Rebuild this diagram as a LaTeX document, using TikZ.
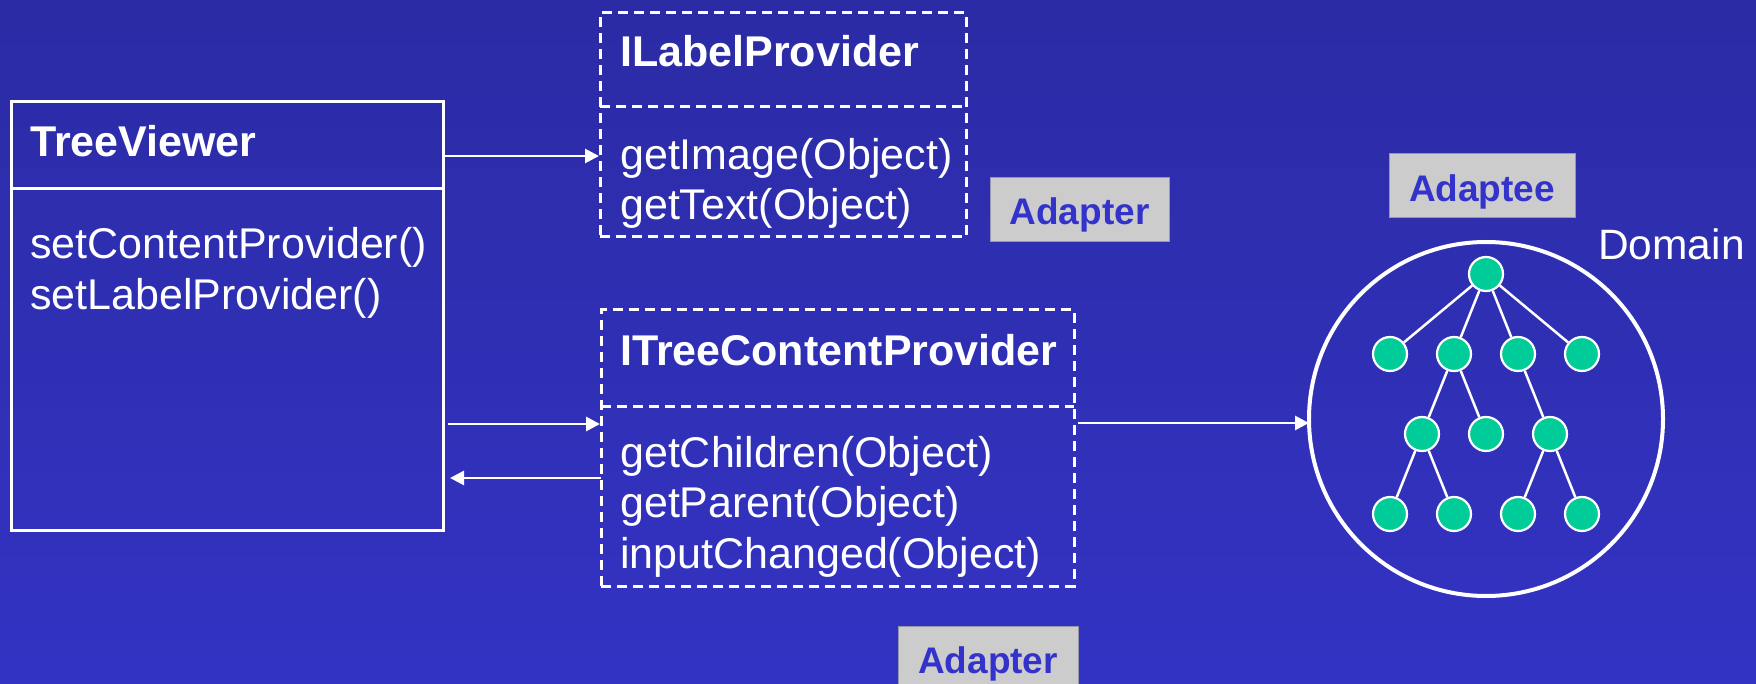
\documentclass[tikz,border=0pt]{standalone}
\usepackage{fontspec}
\setmainfont{Liberation Sans}
\usetikzlibrary{arrows.meta}
\definecolor{bgtop}{RGB}{43,43,165}
\definecolor{bgbot}{RGB}{51,51,196}
\definecolor{leaf}{RGB}{0,204,153}
\definecolor{tagfill}{RGB}{204,204,204}
\definecolor{tagtext}{RGB}{51,51,204}
\definecolor{tagline}{RGB}{150,150,175}
\begin{document}
\begin{tikzpicture}[x=1pt,y=-1pt,
  classbox/.style={draw=white, line width=3pt, inner sep=0pt, outer sep=0pt, anchor=north west},
  dashline/.style={draw=white, line width=3pt, dash pattern=on 10pt off 6pt},
  solidline/.style={draw=white, line width=3pt},
  title/.style={text=white, anchor=base west, inner sep=0pt, font=\fontsize{43}{50}\selectfont\bfseries},
  method/.style={text=white, anchor=base west, inner sep=0pt, font=\fontsize{43}{50}\selectfont},
  arr/.style={draw=white, line width=2.8pt, -{Triangle[length=14pt,width=14pt]}},
  tag/.style={fill=tagfill, draw=tagline, line width=1pt, anchor=north west, inner sep=0pt},
  tagtxt/.style={text=tagtext, anchor=base, inner sep=0pt, font=\fontsize{37}{44}\selectfont\bfseries},
  tnode/.style={circle, fill=leaf, draw=white, line width=2.2pt, minimum size=34pt, inner sep=0pt},
  tedge/.style={draw=white, line width=2.5pt}
]
\useasboundingbox (0,0) rectangle (1756,684);
\shade[top color=bgtop, bottom color=bgbot] (0,0) rectangle (1756,684);

% TreeViewer class
\node[classbox, minimum width=432pt, minimum height=428pt] (tv) at (11,102) {};
\draw[solidline] (tv.west |- 0,189) -- (tv.east |- 0,189);
\node[title] (tvname) at (30,157) {TreeViewer};
\node[method] (tvm1) at (30,259) {setContentProvider()};
\node[method] (tvm2) at (30,310) {setLabelProvider()};

% ILabelProvider interface
\node[classbox, dashline, minimum width=366pt, minimum height=224pt] (ilp) at (600,13) {};
\draw[dashline] (ilp.west |- 0,107) -- (ilp.east |- 0,107);
\node[title] (ilpname) at (620,67) {ILabelProvider};
\node[method] (ilpm1) at (620,170) {getImage(Object)};
\node[method] (ilpm2) at (620,220) {getText(Object)};

% ITreeContentProvider interface
\node[classbox, dashline, minimum width=473pt, minimum height=276pt] (itcp) at (601,310) {};
\draw[dashline] (itcp.west |- 0,406) -- (itcp.east |- 0,406);
\node[title] (itcpname) at (620,366) {ITreeContentProvider};
\node[method] (itcpm1) at (620,467) {getChildren(Object)};
\node[method] (itcpm2) at (620,517) {getParent(Object)};
\node[method] (itcpm3) at (620,568) {inputChanged(Object)};

% Domain tree
\node[circle, draw=white, line width=4pt, minimum size=354pt, inner sep=0pt, outer sep=0pt] (dom) at (1486,419) {};
\node[method, font=\fontsize{42.5}{50}\selectfont] (domname) at (1598,260) {Domain};

\node[tnode] (r)  at (1486,274) {};
\node[tnode] (a1) at (1390,354) {};
\node[tnode] (a2) at (1454,354) {};
\node[tnode] (a3) at (1518,354) {};
\node[tnode] (a4) at (1582,354) {};
\node[tnode] (b1) at (1422,434) {};
\node[tnode] (b2) at (1486,434) {};
\node[tnode] (b3) at (1550,434) {};
\node[tnode] (c1) at (1390,514) {};
\node[tnode] (c2) at (1454,514) {};
\node[tnode] (c3) at (1518,514) {};
\node[tnode] (c4) at (1582,514) {};
\draw[tedge] (r) -- (a1);
\draw[tedge] (r) -- (a2);
\draw[tedge] (r) -- (a3);
\draw[tedge] (r) -- (a4);
\draw[tedge] (a2) -- (b1);
\draw[tedge] (a2) -- (b2);
\draw[tedge] (a3) -- (b3);
\draw[tedge] (b1) -- (c1);
\draw[tedge] (b1) -- (c2);
\draw[tedge] (b3) -- (c3);
\draw[tedge] (b3) -- (c4);

% Connectors
\draw[arr, shorten <=2pt, shorten >=1pt] (tv.east |- 0,156) -- (ilp.west |- 0,156);
\draw[arr, shorten <=5pt, shorten >=1pt] (tv.east |- 0,424) -- (itcp.west |- 0,424);
\draw[arr, shorten >=7pt] (itcp.west |- 0,478) -- (tv.east |- 0,478);
\draw[arr, shorten <=4pt] (itcp.east |- 0,423) -- (dom.west |- 0,423);

% Role tags
\node[tag, minimum width=179pt, minimum height=64pt] (tag1) at (990,177) {};
\node[tagtxt] (tag1txt) at (1079.5,225) {Adapter};
\node[tag, minimum width=180pt, minimum height=70pt] (tag2) at (898,626) {};
\node[tagtxt] (tag2txt) at (988,673) {Adapter};
\node[tag, minimum width=186pt, minimum height=64pt] (tag3) at (1389,153) {};
\node[tagtxt] (tag3txt) at (1482,202) {Adaptee};
\end{tikzpicture}
\end{document}
